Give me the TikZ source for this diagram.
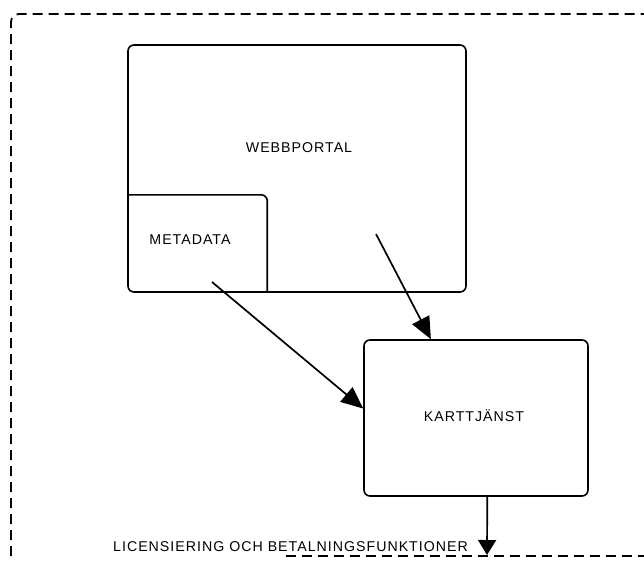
\documentclass[tikz,border=0pt]{standalone}
\usepackage{fontspec}
\setmainfont{Liberation Sans}
\usetikzlibrary{arrows.meta,calc}
\newfontfamily\labelfont[LetterSpace=7]{Liberation Sans}
\begin{document}
\begin{tikzpicture}[x=1pt,y=-1pt,
  box/.style={draw=black,line width=1.6pt,rounded corners=6pt,inner sep=0pt},
  lbl/.style={font=\labelfont\fontsize{14.2}{17}\selectfont,inner sep=0pt},
  flow/.style={line width=1.7pt,-{Triangle[length=22pt,width=19pt]}},
  frame/.style={line width=1.8pt,dash pattern=on 10pt off 6pt}]
\useasboundingbox (0,0) rectangle (644,563);

% outer dashed frame
\draw[frame,rounded corners=8pt] (11,556) -- (11,14) -- (652,14);
\draw[frame] (286,556) -- (652,556);

% web portal with the metadata corner inside it
\node[box,minimum width=338pt,minimum height=247pt] (portal) at (297,168.5) {};
\node[lbl] (portaltext) at (299,148) {WEBBPORTAL};
\node[inner sep=0pt,minimum width=139pt,minimum height=97pt] (meta) at (197.5,243.5) {};
\draw[line width=1.6pt] (meta.north west) [rounded corners=6pt]-- (meta.north east) [sharp corners]-- (meta.south east);
\node[lbl] (metatext) at (190,240) {METADATA};

% map service
\node[box,minimum width=224pt,minimum height=156pt] (kart) at (476,418) {};
\node[lbl] (karttext) at (474,416) {KARTTJÄNST};

% connectors
\coordinate (m0) at (212,282);
\coordinate (p0) at (376,234);
\coordinate (out) at (487,555);
\draw[flow] (m0) -- ($(kart.north west)!0.44!(kart.south west)$);
\draw[flow] (p0) -- ($(kart.north west)!0.30!(kart.north east)$);
\draw[line width=1.7pt,-{Triangle[length=15pt,width=18pt]}] ($(kart.south west)!0.55!(kart.south east)$) -- (out);

\node[lbl,anchor=west] (lic) at (113,547) {LICENSIERING OCH BETALNINGSFUNKTIONER};
\end{tikzpicture}
\end{document}
